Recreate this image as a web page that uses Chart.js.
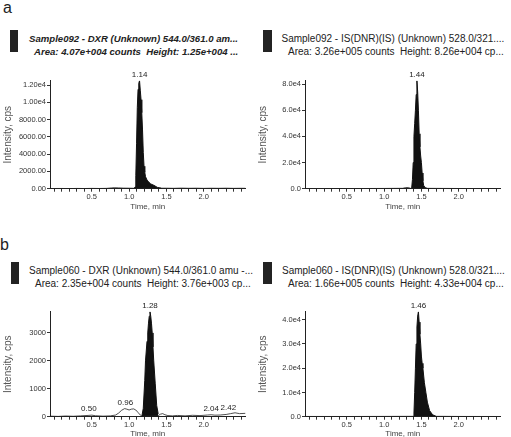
<!DOCTYPE html>
<html>
<head>
<meta charset="utf-8">
<script src="https://cdn.jsdelivr.net/npm/chart.js@4.4.1/dist/chart.umd.min.js"></script>
<style>
  html, body { margin: 0; padding: 0; background: #fff; }
  body { width: 511px; height: 437px; position: relative; overflow: hidden;
         font-family: "Liberation Sans", Arial, sans-serif; color: #222; }
  .letter { position: absolute; font-size: 16px; line-height: 16px; }
  .swatch { position: absolute; width: 8px; height: 22px; background: #232323; }
  .head { position: absolute; font-size: 10px; line-height: 13px; white-space: nowrap; }
  .head.bi { font-weight: bold; font-style: italic; font-size: 9.6px; }
  .head span { display: block; }
  canvas { position: absolute; }
</style>
</head>
<body>

<div class="letter" style="left:3px;top:-0.5px">a</div>
<div class="swatch" style="left:10px;top:30px"></div>
<div class="head bi" style="left:29px;top:31.5px">
  <span>Sample092 - DXR (Unknown) 544.0/361.0 am...</span>
  <span style="margin-left:5px">Area: 4.07e+004 counts&nbsp; Height: 1.25e+004 ...</span>
</div>
<div class="swatch" style="left:263px;top:30px;width:9px"></div>
<div class="head" style="left:281.5px;top:31.5px">
  <span>Sample092 - IS(DNR)(IS) (Unknown) 528.0/321....</span>
  <span style="margin-left:6.5px">Area: 3.26e+005 counts&nbsp; Height: 8.26e+004 cp...</span>
</div>

<div class="letter" style="left:0px;top:236.5px">b</div>
<div class="swatch" style="left:10.5px;top:261.5px"></div>
<div class="head" style="left:29px;top:263.5px">
  <span>Sample060 - DXR (Unknown) 544.0/361.0 amu -...</span>
  <span style="margin-left:6px">Area: 2.35e+004 counts&nbsp; Height: 3.76e+003 cp...</span>
</div>
<div class="swatch" style="left:263px;top:261.5px;width:9px"></div>
<div class="head" style="left:282px;top:263.5px">
  <span>Sample060 - IS(DNR)(IS) (Unknown) 528.0/321....</span>
  <span style="margin-left:6px">Area: 1.66e+005 counts&nbsp; Height: 4.33e+004 cp...</span>
</div>

<canvas id="aDxr" width="256" height="149" style="left:0px;top:66px"></canvas>
<canvas id="aIs" width="256" height="149" style="left:255px;top:66px"></canvas>
<canvas id="bDxr" width="256" height="150" style="left:0px;top:292px"></canvas>
<canvas id="bIs" width="256" height="150" style="left:255px;top:292px"></canvas>

<script>
// time axis, min
const timeMin = -0.06;
const timeMax = 2.56;
const xMinorTicks = [0, 0.1, 0.2, 0.3, 0.4, 0.5, 0.6, 0.7, 0.8, 0.9, 1.0, 1.1, 1.2,
  1.3, 1.4, 1.5, 1.6, 1.7, 1.8, 1.9, 2.0, 2.1, 2.2, 2.3, 2.4, 2.5];
const xMajorTicks = [0.5, 1.0, 1.5, 2.0];
const xTickLabels = ["0.5", "1.0", "1.5", "2.0"];

// a - Sample092, DXR
const aDxrPeakTimes = [1.07, 1.08, 1.09, 1.10, 1.11, 1.12, 1.13, 1.14, 1.15, 1.16, 1.17,
  1.18, 1.19, 1.20, 1.21, 1.22, 1.24, 1.26, 1.29, 1.33, 1.38, 1.43];
const aDxrPeakValues = [60, 200, 1500, 5200, 9400, 11500, 12200, 12500, 11400, 10300, 8800,
  6800, 4200, 2600, 1900, 1400, 1000, 800, 550, 400, 150, 60];
const aDxrBaseTimes = [-0.06, 0.1, 0.2, 0.3, 0.4, 0.5, 0.6, 0.7, 0.76, 0.8, 0.86, 0.92, 1.0,
  1.06, 1.43, 1.5, 1.6, 1.7, 1.8, 1.9, 2.0, 2.1, 2.2, 2.3, 2.4, 2.5, 2.56];
const aDxrBaseValues = [20, 25, 15, 30, 20, 35, 25, 40, 90, 120, 100, 70, 60,
  50, 60, 60, 45, 70, 50, 60, 40, 55, 45, 60, 40, 50, 45];
const aDxrMax = 12500;
const aDxrYTicks = [0, 2000, 4000, 6000, 8000, 10000, 12000];
const aDxrYLabels = ["0.00", "2000.00", "4000.00", "6000.00", "8000.00", "1.00e4", "1.20e4"];
const aDxrLabelTexts = ["1.14"];
const aDxrLabelTimes = [1.14];
const aDxrLabelValues = [12500];

// a - Sample092, IS(DNR)
const aIsPeakTimes = [1.35, 1.37, 1.38, 1.39, 1.40, 1.41, 1.42, 1.43, 1.44, 1.45, 1.46,
  1.47, 1.48, 1.49, 1.50, 1.51, 1.52, 1.53, 1.55, 1.58, 1.62];
const aIsPeakValues = [0, 800, 7000, 20000, 40000, 50000, 60000, 72000, 82600, 74000, 60000,
  42000, 32000, 25000, 20000, 12000, 6000, 2500, 800, 200, 0];
const aIsBaseTimes = [-0.06, 0.5, 1.0, 1.25, 1.29, 1.33, 1.35, 1.62, 2.0, 2.56];
const aIsBaseValues = [150, 100, 200, 300, 900, 900, 300, 250, 150, 100];
const aIsMax = 82600;
const aIsYTicks = [0, 20000, 40000, 60000, 80000];
const aIsYLabels = ["0.0", "2.0e4", "4.0e4", "6.0e4", "8.0e4"];
const aIsLabelTexts = ["1.44"];
const aIsLabelTimes = [1.44];
const aIsLabelValues = [82600];

// b - Sample060, DXR
const bDxrPeakTimes = [1.17, 1.19, 1.21, 1.22, 1.24, 1.25, 1.26, 1.27, 1.28, 1.29, 1.30,
  1.31, 1.32, 1.33, 1.35, 1.37, 1.39];
const bDxrPeakValues = [0, 300, 1300, 2000, 2700, 3000, 3350, 3600, 3760, 3600, 3350,
  3000, 2500, 2000, 1200, 400, 100];
const bDxrBaseTimes = [-0.06, 0.05, 0.15, 0.25, 0.35, 0.45, 0.5, 0.55, 0.65, 0.75,
  0.82, 0.86, 0.90, 0.94, 0.97, 1.00, 1.03, 1.06, 1.09, 1.12,
  1.15, 1.17, 1.39, 1.42, 1.45, 1.48, 1.52, 1.58, 1.65, 1.75,
  1.85, 1.95, 2.05, 2.10, 2.15, 2.22, 2.30, 2.36, 2.42, 2.48, 2.56];
const bDxrBaseValues = [20, 10, 25, 15, 30, 45, 55, 35, 20, 30,
  60, 130, 230, 290, 270, 240, 270, 280, 240, 150,
  60, 20, 40, 90, 110, 70, 40, 30, 45, 30,
  50, 40, 60, 70, 55, 60, 80, 110, 140, 110, 120];
const bDxrMax = 3760;
const bDxrYTicks = [0, 1000, 2000, 3000];
const bDxrYLabels = ["0", "1000", "2000", "3000"];
const bDxrLabelTexts = ["0.50", "0.96", "1.28", "2.04", "2.42"];
const bDxrLabelTimes = [0.46, 0.95, 1.28, 2.10, 2.33];
const bDxrLabelValues = [60, 270, 3760, 60, 110];

// b - Sample060, IS(DNR)
const bIsPeakTimes = [1.39, 1.40, 1.41, 1.42, 1.43, 1.44, 1.45, 1.46, 1.47, 1.48, 1.49,
  1.50, 1.51, 1.52, 1.54, 1.56, 1.58, 1.61, 1.65, 1.70];
const bIsPeakValues = [0, 1500, 10000, 20000, 30000, 37000, 41500, 43300, 39000, 34000, 30000,
  25000, 22000, 20000, 14000, 10000, 6000, 2500, 800, 100];
const bIsBaseTimes = [-0.06, 0.5, 1.0, 1.35, 1.75, 2.0, 2.56];
const bIsBaseValues = [100, 80, 120, 150, 150, 100, 80];
const bIsMax = 43300;
const bIsYTicks = [0, 10000, 20000, 30000, 40000];
const bIsYLabels = ["0.0", "1.0e4", "2.0e4", "3.0e4", "4.0e4"];
const bIsLabelTexts = ["1.46"];
const bIsLabelTimes = [1.46];
const bIsLabelValues = [43300];

const FONT = "'Liberation Sans', Arial, sans-serif";

function pts(times, values) {
  return times.map((t, i) => ({ x: t, y: values[i] }));
}

// peak retention time labels above the trace
const peakLabels = {
  id: "peakLabels",
  afterDatasetsDraw(chart) {
    const o = chart.options.plugins.peakLabels;
    if (!o) return;
    const c = chart.ctx;
    const xs = chart.scales.x, ys = chart.scales.y;
    c.save();
    c.font = "8px " + FONT;
    c.fillStyle = "#222";
    c.textAlign = "center";
    c.textBaseline = "bottom";
    o.texts.forEach((txt, i) => {
      c.fillText(txt, xs.getPixelForValue(o.times[i]), ys.getPixelForValue(o.values[i]) - 2);
    });
    c.restore();
  }
};

function dibujar(id, d) {
  new Chart(document.getElementById(id), {
    type: "line",
    data: {
      datasets: [
        {
          data: pts(d.baseT, d.baseV),
          borderColor: "#222",
          borderWidth: 0.8,
          pointRadius: 0,
          fill: false
        },
        {
          data: pts(d.peakT, d.peakV),
          borderColor: "#111",
          backgroundColor: "#111",
          borderWidth: 1,
          pointRadius: 0,
          fill: "origin"
        }
      ]
    },
    options: {
      responsive: false,
      animation: false,
      events: [],
      layout: { padding: { top: d.padTop, right: 10.5, left: 0, bottom: 0 } },
      plugins: {
        legend: { display: false },
        tooltip: { enabled: false },
        peakLabels: { texts: d.lblText, times: d.lblT, values: d.lblV }
      },
      scales: {
        x: {
          type: "linear",
          min: timeMin,
          max: timeMax,
          afterBuildTicks: s => { s.ticks = xMinorTicks.map(v => ({ value: v })); },
          afterFit: s => { s.height = d.xHeight; },
          ticks: {
            autoSkip: false,
            maxRotation: 0,
            padding: 1,
            color: "#333",
            font: { family: FONT, size: 7.5 },
            callback: v => {
              const k = xMajorTicks.findIndex(m => Math.abs(m - v) < 1e-6);
              return k >= 0 ? xTickLabels[k] : "";
            }
          },
          grid: { drawOnChartArea: false, drawTicks: true, tickLength: 3, color: "#333" },
          border: { color: "#222", width: 1 },
          title: {
            display: true, text: "Time, min", color: "#444",
            font: { family: FONT, size: 8 }, padding: { top: 0, bottom: 3 }
          }
        },
        y: {
          min: 0,
          max: d.yMax,
          afterBuildTicks: s => { s.ticks = d.yTicks.map(v => ({ value: v })); },
          afterFit: s => { s.width = 50; },
          ticks: {
            padding: 1,
            color: "#333",
            font: { family: FONT, size: 7.5 },
            callback: (v, i) => d.yLabels[i]
          },
          grid: { drawOnChartArea: false, drawTicks: true, tickLength: 3, color: "#333" },
          border: { color: "#222", width: 1 },
          title: {
            display: true, text: "Intensity, cps", color: "#555",
            font: { family: FONT, size: 10 }, padding: { top: 2, bottom: 0 }
          }
        }
      }
    },
    plugins: [peakLabels]
  });
}

dibujar("aDxr", {
  peakT: aDxrPeakTimes, peakV: aDxrPeakValues, baseT: aDxrBaseTimes, baseV: aDxrBaseValues,
  yMax: aDxrMax, yTicks: aDxrYTicks, yLabels: aDxrYLabels,
  lblText: aDxrLabelTexts, lblT: aDxrLabelTimes, lblV: aDxrLabelValues,
  padTop: 14.7, xHeight: 26.3
});
dibujar("aIs", {
  peakT: aIsPeakTimes, peakV: aIsPeakValues, baseT: aIsBaseTimes, baseV: aIsBaseValues,
  yMax: aIsMax, yTicks: aIsYTicks, yLabels: aIsYLabels,
  lblText: aIsLabelTexts, lblT: aIsLabelTimes, lblV: aIsLabelValues,
  padTop: 14.7, xHeight: 26.3
});
dibujar("bDxr", {
  peakT: bDxrPeakTimes, peakV: bDxrPeakValues, baseT: bDxrBaseTimes, baseV: bDxrBaseValues,
  yMax: bDxrMax, yTicks: bDxrYTicks, yLabels: bDxrYLabels,
  lblText: bDxrLabelTexts, lblT: bDxrLabelTimes, lblV: bDxrLabelValues,
  padTop: 19.7, xHeight: 25.3
});
dibujar("bIs", {
  peakT: bIsPeakTimes, peakV: bIsPeakValues, baseT: bIsBaseTimes, baseV: bIsBaseValues,
  yMax: bIsMax, yTicks: bIsYTicks, yLabels: bIsYLabels,
  lblText: bIsLabelTexts, lblT: bIsLabelTimes, lblV: bIsLabelValues,
  padTop: 19.7, xHeight: 25.3
});
</script>
</body>
</html>
